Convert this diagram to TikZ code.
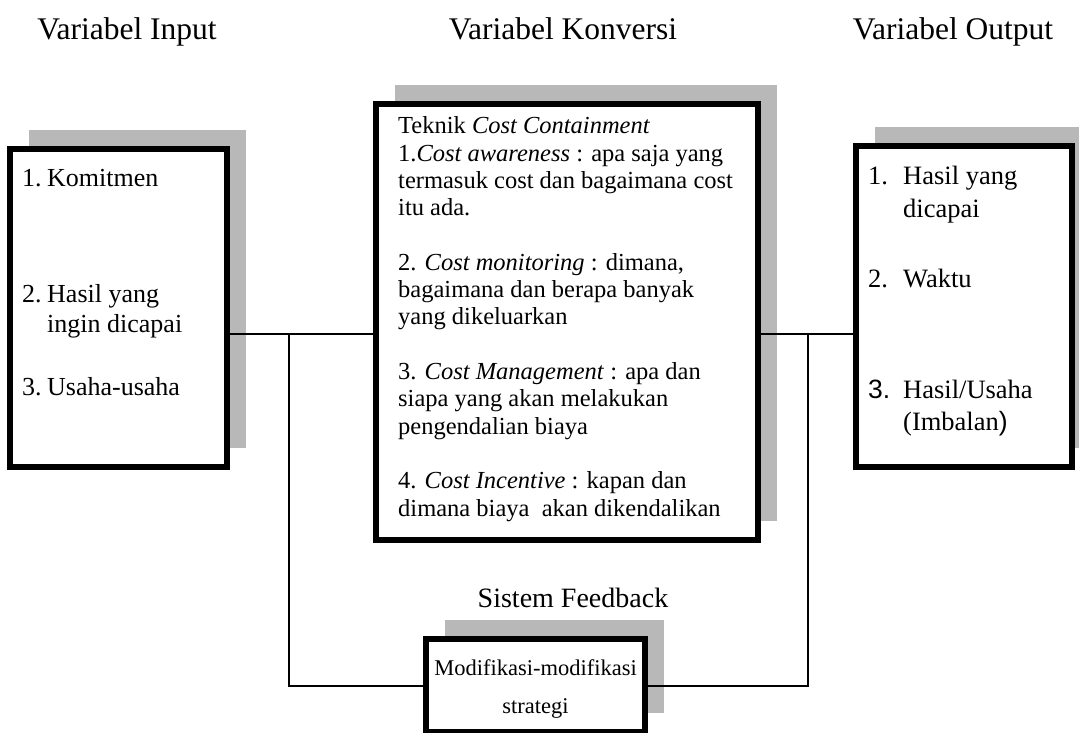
\documentclass[tikz,border=0pt]{standalone}
\usepackage{fontspec}
\setmainfont{Liberation Serif}
\newfontfamily\numsans{Liberation Sans}
\usetikzlibrary{shadows}

\begin{document}
\begin{tikzpicture}[x=1pt,y=-1pt,
  frame/.style={draw=black, line width=6pt, fill=white, rectangle, inner sep=0pt,
    general shadow={fill=black!28, shadow xshift=19pt, shadow yshift=19pt}},
  conn/.style={draw=black, line width=1.3pt},
  title/.style={font=\fontsize{31.5}{36}\selectfont, anchor=base, inner sep=0pt},
  ltxt/.style={font=\fontsize{26}{30}\selectfont, anchor=base west, inner sep=0pt, align=left},
  ctxt/.style={font=\fontsize{24.5}{27.3}\selectfont, anchor=base west, inner sep=0pt, align=left},
  rtxt/.style={font=\fontsize{26.5}{32.5}\selectfont, anchor=base west, inner sep=0pt, align=left},
]
\useasboundingbox (0,0) rectangle (1079,733);
\clip (0,0) rectangle (1079,733);

% column headings
\node[title] (tin)   at (127,40) {Variabel Input};
\node[title] (tconv) at (563,40) {Variabel Konversi};
\node[title] (tout)  at (953,40) {Variabel Output};

% framed boxes with offset shadows
\node[frame, minimum width=217pt, minimum height=318pt] (inbox)  at (118.5,308) {};
\node[frame, minimum width=382pt, minimum height=436pt] (conv)   at (567,322) {};
\node[frame, minimum width=216pt, minimum height=321pt] (outbox) at (964,306.5) {};
\node[frame, minimum width=219pt, minimum height=93pt]  (modbox) at (535.5,685.5) {};

% input variables (multi-line nodes sit on the baseline of their last line)
\node[ltxt] (in1n) at (22,186) {1.};
\node[ltxt] (in1)  at (47,186) {Komitmen};
\node[ltxt] (in2n) at (22,302) {2.};
\node[ltxt] (in2)  at (47,332) {Hasil yang\\ingin dicapai};
\node[ltxt] (in3n) at (22,395) {3.};
\node[ltxt] (in3)  at (47,395) {Usaha-usaha};

% conversion techniques
\node[ctxt] (ctext) at (398,516) {Teknik \textit{Cost Containment}\\
1.\textit{Cost awareness} : apa saja yang\\
termasuk cost dan bagaimana cost\\
itu ada.\\[27.3pt]
2. \textit{Cost monitoring} : dimana,\\
bagaimana dan berapa banyak\\
yang dikeluarkan\\[27.3pt]
3. \textit{Cost Management} : apa dan\\
siapa yang akan melakukan\\
pengendalian biaya\\[27.3pt]
4. \textit{Cost Incentive} : kapan dan\\
dimana biaya~ akan dikendalikan};

% output variables
\node[rtxt] (out1n) at (868,185) {1.};
\node[rtxt] (out1)  at (903,217.5) {Hasil yang\\dicapai};
\node[rtxt] (out2n) at (868,287) {2.};
\node[rtxt] (out2)  at (903,287) {Waktu};
\node[rtxt] (out3n) at (868,398) {{\numsans 3.}};
\node[rtxt] (out3)  at (903,430.5) {Hasil/Usaha\\(Imbalan{\numsans )}};

% feedback loop
\node[font=\fontsize{28}{34}\selectfont, anchor=base, inner sep=0pt] (fb) at (573,607) {Sistem Feedback};
\node[font=\fontsize{22.5}{38}\selectfont, anchor=base, align=center, inner sep=0pt] (modtxt) at (535.5,713) {Modifikasi-modifikasi\\strategi};

\coordinate (lj) at (289,334);
\coordinate (rj) at (808,334);
\coordinate (fbk) at (0,686);
\draw[conn] (inbox.east |- lj) -- (conv.west |- lj);
\draw[conn] (conv.east |- rj) -- (outbox.west |- rj);
\draw[conn] (lj) |- (modbox.west |- fbk);
\draw[conn] (rj) |- (modbox.east |- fbk);
\end{tikzpicture}
\end{document}
